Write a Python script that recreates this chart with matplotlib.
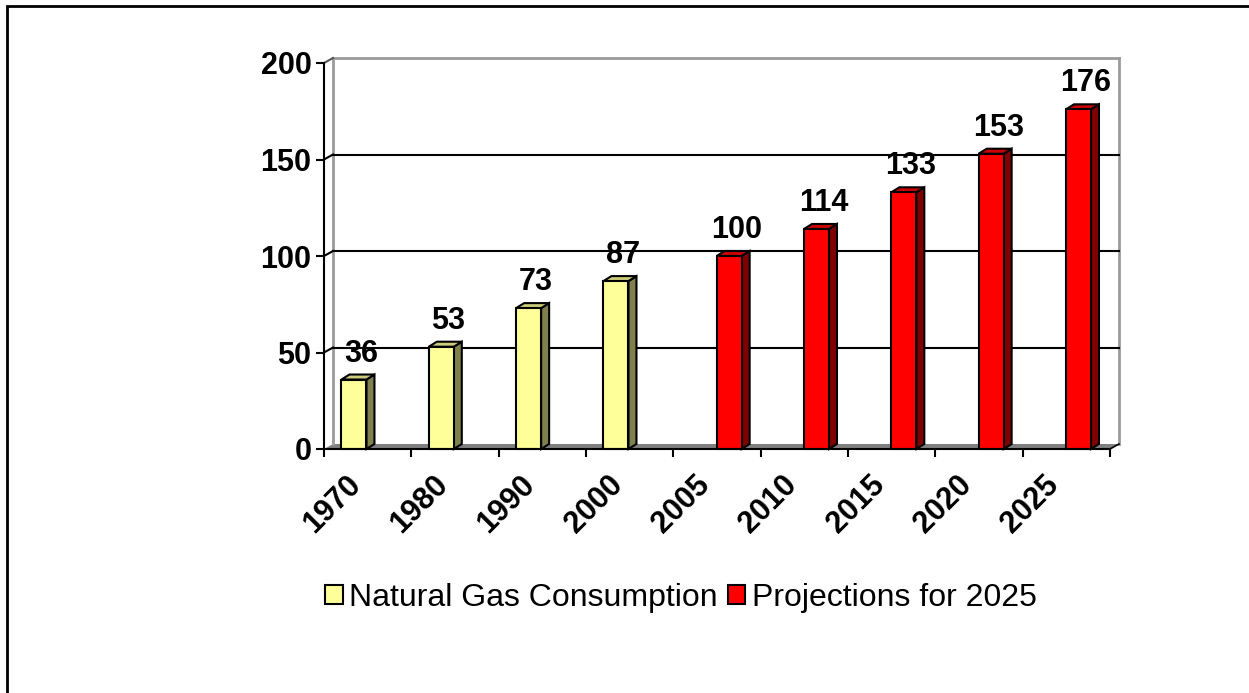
import matplotlib
matplotlib.use("Agg")
import matplotlib.pyplot as plt
from matplotlib.patches import Polygon, Rectangle, Patch

plt.rcParams["font.family"] = ["Liberation Sans", "DejaVu Sans"]

# — chart data —
years = ["1970", "1980", "1990", "2000", "2005", "2010", "2015", "2020", "2025"]
consumption = [36, 53, 73, 87, None, None, None, None, None]
projections = [None, None, None, None, 100, 114, 133, 153, 176]
y_ticks = [0, 50, 100, 150, 200]

W, H = 1249, 693
fig = plt.figure(figsize=(W / 100, H / 100), dpi=100)

# front plane of the 3D box, in pixels
left_px, right_px, top_px, bottom_px = 324, 1110, 63, 449
ax = fig.add_axes([left_px / W, (H - bottom_px) / H,
                   (right_px - left_px) / W, (bottom_px - top_px) / H])
n = len(years)
ax.set_xlim(0, n)
ax.set_ylim(0, 200)

px_x = (right_px - left_px) / n     # pixels per category
px_y = (bottom_px - top_px) / 200   # pixels per unit

# depth offsets of walls and bars (pixels -> data units)
WX, WY = 9 / px_x, 5 / px_y
BX, BY = 8 / px_x, 5 / px_y

wall_gray = "#9a9a9a"
label_size = 22

# floor
ax.add_patch(Polygon([(0, 0), (n, 0), (n + WX, WY), (WX, WY)], closed=True,
                     facecolor="#808080", edgecolor="none", zorder=1, clip_on=False))
ax.plot([n, n + WX], [0, WY], color="black", lw=1.2, zorder=2, clip_on=False)

# back wall borders
ax.plot([WX, WX], [WY, 200 + WY], color=wall_gray, lw=2, zorder=1, clip_on=False)
ax.plot([n + WX, n + WX], [WY, 200 + WY], color=wall_gray, lw=2, zorder=1, clip_on=False)
ax.plot([WX, n + WX], [200 + WY, 200 + WY], color=wall_gray, lw=2, zorder=1, clip_on=False)
ax.plot([0, WX], [200, 200 + WY], color="#555555", lw=1.5, zorder=1, clip_on=False)

# gridlines on back wall + side wall
for v in y_ticks[1:-1]:
    ax.plot([WX, n + WX], [v + WY, v + WY], color="black", lw=1.5, zorder=1, clip_on=False)
    ax.plot([0, WX], [v, v + WY], color="black", lw=1.5, zorder=1, clip_on=False)


def draw_bar(x0, w, v, front, side, top):
    x1 = x0 + w
    ax.add_patch(Polygon([(x1, 0), (x1 + BX, BY), (x1 + BX, v + BY), (x1, v)],
                         closed=True, facecolor=side, edgecolor="black", lw=1.5,
                         zorder=3, clip_on=False, joinstyle="miter"))
    ax.add_patch(Polygon([(x0, v), (x0 + BX, v + BY), (x1 + BX, v + BY), (x1, v)],
                         closed=True, facecolor=top, edgecolor="black", lw=1.5,
                         zorder=3, clip_on=False, joinstyle="miter"))
    ax.add_patch(Rectangle((x0, 0), w, v, facecolor=front, edgecolor="black",
                           lw=1.5, zorder=4, clip_on=False, joinstyle="miter"))
    ax.annotate(str(v), xy=(x0 + w / 2, v), xytext=(7, 11),
                textcoords="offset pixels", ha="center", va="bottom",
                fontsize=label_size, fontweight="bold", zorder=5)


bar_w = 25 / px_x
series = [
    (consumption, 0.20, ("#FFFF99", "#80804C", "#CCCC7A")),
    (projections, 0.496, ("#FF0000", "#800000", "#CC0000")),
]
for values, offset, colors in series:
    for i, v in enumerate(values):
        if v is not None:
            draw_bar(i + offset, bar_w, v, *colors)

# axes styling
for side in ["top", "right"]:
    ax.spines[side].set_visible(False)
ax.spines["left"].set_linewidth(1.5)
ax.spines["bottom"].set_linewidth(1.5)
ax.spines["left"].set_zorder(6)
ax.spines["bottom"].set_zorder(6)
ax.set_facecolor("none")

ax.set_xticks(range(n + 1))
ax.set_xticklabels([])
ax.tick_params(axis="x", length=6, width=1.5, direction="out")
ax.set_yticks(y_ticks)
ax.set_yticklabels([str(t) for t in y_ticks], fontsize=label_size, fontweight="bold")
ax.tick_params(axis="y", length=6, width=1.5, pad=3, direction="out")

for i, yr in enumerate(years):
    ax.annotate(yr, xy=(i + 0.5, 0), xytext=(-1, -21), textcoords="offset pixels",
                ha="right", va="top", rotation=45, fontsize=label_size, fontweight="bold")

# legend
handles = [Patch(facecolor="#FFFF99", edgecolor="black", lw=1.5),
           Patch(facecolor="#FF0000", edgecolor="black", lw=1.5)]
fig.legend(handles, ["Natural Gas Consumption", "Projections for 2025"],
           loc="center", bbox_to_anchor=(681 / W, 1 - 598 / H), ncol=2,
           frameon=False, fontsize=23, handlelength=0.55, handleheight=0.55,
           handletextpad=0.2, columnspacing=0.3)

# outer frame (cut off at right and bottom)
fig.add_artist(Rectangle((7 / W, -0.1), 1.2, 1.1 - 6 / H, transform=fig.transFigure,
                         fill=False, edgecolor="black", lw=2))

fig.savefig("out.png", dpi=100)
